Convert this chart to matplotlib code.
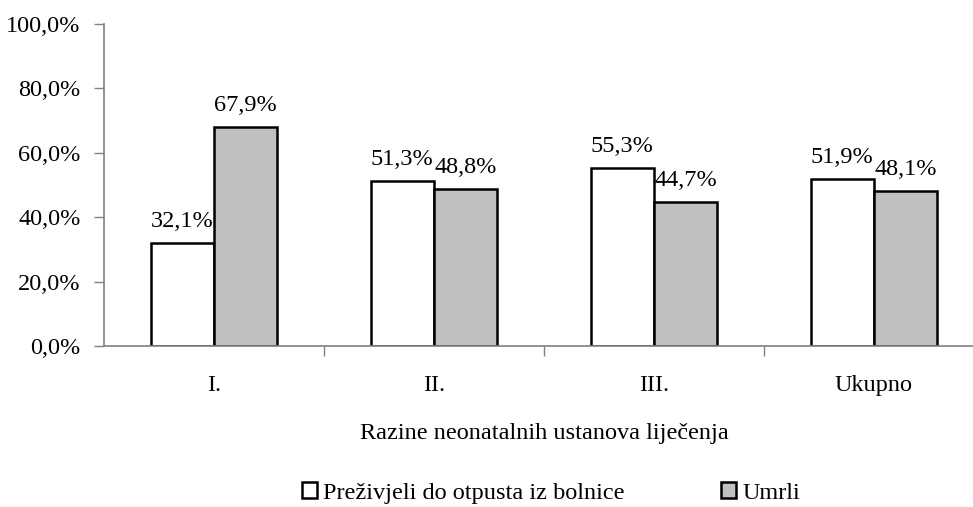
import matplotlib.pyplot as plt
import numpy as np

plt.rcParams['font.family'] = ['Liberation Serif', 'DejaVu Serif']

categories = ['I.', 'II.', 'III.', 'Ukupno']
prezivjeli = [32.1, 51.3, 55.3, 51.9]
umrli = [67.9, 48.8, 44.7, 48.1]
series_names = ['Preživjeli do otpusta iz bolnice', 'Umrli']

fs = 17.5

fig = plt.figure(figsize=(9.73, 5.07), dpi=100)
# axes runs past the right edge like the original
ax = fig.add_axes([104 / 973, 1 - 346 / 507, 880 / 973, 322 / 507])

x = np.arange(len(categories))
w = 0.288
b1 = ax.bar(x - w / 2, prezivjeli, w, color='white', edgecolor='black', linewidth=1.8,
            label=series_names[0])
b2 = ax.bar(x + w / 2, umrli, w, color='#c0c0c0', edgecolor='black', linewidth=1.8,
            label=series_names[1])

for bars in (b1, b2):
    for r in bars:
        v = r.get_height()
        ax.annotate(('%.1f%%' % v).replace('.', ','),
                    (r.get_x() + r.get_width() / 2, v),
                    xytext=(0, 8), textcoords='offset points',
                    ha='center', va='bottom', fontsize=fs)

ax.set_xlim(-0.5, len(categories) - 0.5)
ax.set_ylim(0, 100)
ax.set_yticks(np.arange(0, 101, 20))
ax.set_yticklabels([('%.1f%%' % t).replace('.', ',') for t in np.arange(0, 101, 20)])
ax.set_xticks(x)
ax.set_xticklabels(categories)
ax.set_xticks(np.arange(0.5, len(categories) - 0.5), minor=True)
ax.tick_params(axis='x', which='major', length=0, pad=21, labelsize=fs)
ax.tick_params(axis='x', which='minor', length=7, color='#808080', width=1)
ax.tick_params(axis='y', length=7, color='#808080', width=1, pad=10, labelsize=fs)

for s in ['top', 'right']:
    ax.spines[s].set_visible(False)
for s in ['left', 'bottom']:
    ax.spines[s].set_color('#808080')
    ax.spines[s].set_linewidth(1.2)

ax.set_xlabel('Razine neonatalnih ustanova liječenja', fontsize=fs, labelpad=19)

fig.legend(loc='center', bbox_to_anchor=(551 / 973, 1 - 493 / 507), ncol=2,
           frameon=False, fontsize=fs, handlelength=0.6, handleheight=0.6,
           handletextpad=0.25, columnspacing=4.0, borderpad=0, borderaxespad=0)

fig.savefig('out.png', dpi=100)
